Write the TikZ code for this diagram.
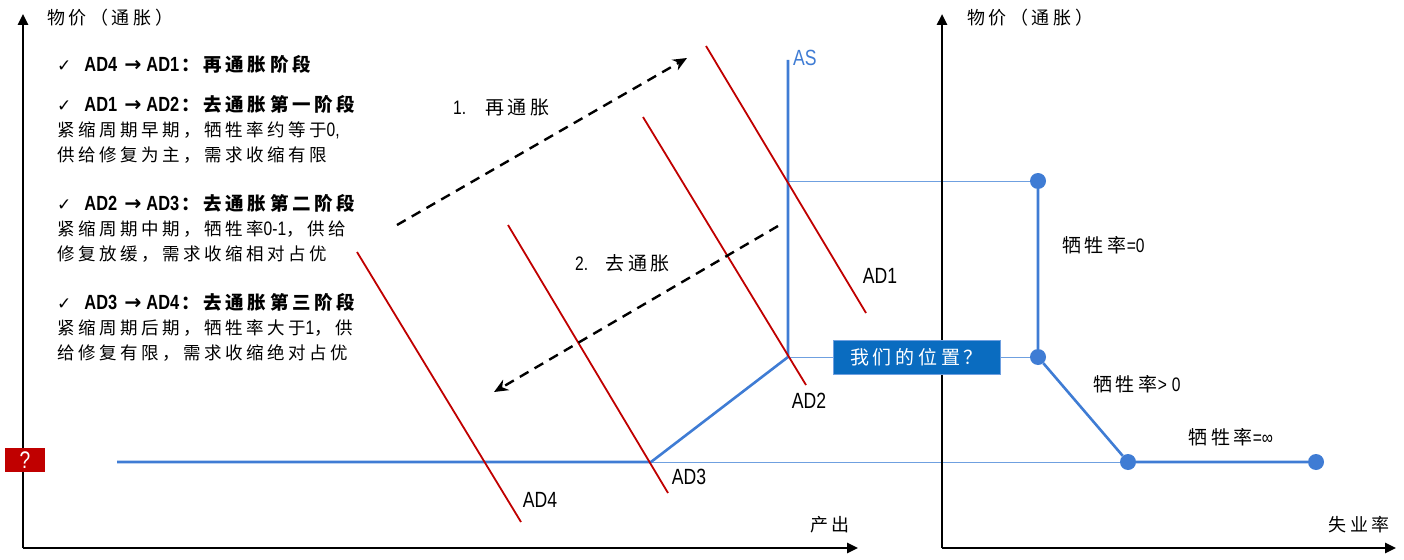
\documentclass[tikz,border=0pt]{standalone}
\usepackage{fontspec}
\setmainfont{Noto Sans CJK SC}[LetterSpace=20]
\newfontfamily\latfont[FakeStretch=0.8]{Liberation Sans}
\newfontfamily\symfont{DejaVu Sans}
\usetikzlibrary{arrows.meta, positioning}
\definecolor{lineblue}{HTML}{3F7CD4}
\definecolor{thinblue}{HTML}{6FA0E0}
\definecolor{boxblue}{HTML}{0A6CC0}
\definecolor{adred}{HTML}{C00000}
\newcommand{\num}[1]{{\latfont\fontsize{19.5}{20}\selectfont #1}}
\newcommand{\tick}{{\symfont\mdseries\fontsize{17}{20}\selectfont ✓}\hspace{13pt}}
\newcommand{\shiftto}[2]{{\latfont\fontsize{20.5}{21}\selectfont #1\hspace{7pt}{\symfont\bfseries →}\hspace{5pt}#2}\hspace{2pt}}

\begin{document}
\begin{tikzpicture}[
    x=1pt, y=-1pt,
    every node/.style={font=\fontsize{17.5}{20}\selectfont, inner sep=0pt},
    axis/.style={line width=2.5pt, -{Triangle[length=11pt,width=10pt]}},
    asline/.style={line width=2.6pt, lineblue},
    guide/.style={line width=1pt, thinblue},
    adline/.style={line width=1.8pt, adred},
    shift arrow/.style={line width=2.4pt, dash pattern=on 10pt off 7pt, -{Stealth[length=14pt,width=12pt]}},
    dot/.style={circle, fill=lineblue, minimum size=16pt},
    adlabel/.style={font=\latfont\fontsize{22}{22}\selectfont},
    axislabel/.style={font=\fontsize{18}{20}\selectfont},
    curvelabel/.style={anchor=west, font=\fontsize{19}{20}\selectfont},
    stepline/.style={anchor=west},
    headline/.style={anchor=west, font=\fontsize{18.5}{20}\selectfont\bfseries}
]
\useasboundingbox (0,0) rectangle (1404,559);

% axes
\coordinate (o1) at (23,548);
\coordinate (y1) at (23,14);
\coordinate (x1) at (858,548);
\coordinate (o2) at (942,548);
\coordinate (y2) at (942,14);
\coordinate (x2) at (1396,548);

% AS curve
\coordinate (asTop) at (788,60);
\coordinate (asA) at (788,181);
\coordinate (asB) at (788,357);
\coordinate (asC) at (651,462);
\coordinate (asEnd) at (117,462);

% dots of the right curve
\node (p0) [dot] at (1038,181) {};
\node (p1) [dot] at (1038,357) {};
\node (p2) [dot] at (1128,462) {};
\node (p3) [dot] at (1316,462) {};

\draw [guide] (asA) -- (p0);
\draw [guide] (asB) -- (p1);
\draw [guide] (asC) -- (p2);

\draw [asline] (asTop) -- (asB) -- (asC) -- (asEnd);
\draw [asline] (p0) -- (p1) -- (p2) -- (p3);

% AD lines
\coordinate (ad1a) at (706,46);  \coordinate (ad1b) at (866,313);
\coordinate (ad2a) at (643,117); \coordinate (ad2b) at (806,385);
\coordinate (ad3a) at (508,225); \coordinate (ad3b) at (668,493);
\coordinate (ad4a) at (357,252); \coordinate (ad4b) at (521,522);
\draw [adline] (ad1a) -- (ad1b);
\draw [adline] (ad2a) -- (ad2b);
\draw [adline] (ad3a) -- (ad3b);
\draw [adline] (ad4a) -- (ad4b);

\draw [axis] (o1) -- (y1);
\draw [axis] (o1) -- (x1);
\draw [axis] (o2) -- (y2);
\draw [axis] (o2) -- (x2);

% shifts of demand
\coordinate (up1) at (397,225);  \coordinate (up2) at (687,58);
\coordinate (dn1) at (778,226);  \coordinate (dn2) at (494,392);
\draw [shift arrow] (up1) -- (up2);
\draw [shift arrow] (dn1) -- (dn2);

\node (pos) [draw=thinblue, line width=0.8pt, fill=boxblue, text=white, minimum width=167pt, minimum height=34pt, font=\fontsize{19}{20}\selectfont] at (916.5,357) {我们的位置？};
\node (q) [fill=adred, text=white, minimum width=40pt, minimum height=24pt, font=\latfont\fontsize{24}{24}\selectfont] at (25,460) {?};

% labels
\node (ylab1) [axislabel, anchor=west] at (47,18) {物价（通胀）};
\node (ylab2) [axislabel, anchor=west] at (967,18) {物价（通胀）};
\node (xlab1) [axislabel] at (830,525) {产出};
\node (xlab2) [axislabel] at (1359,525) {失业率};
\node (as) [anchor=west, text=lineblue, font=\latfont\fontsize{22}{22}\selectfont] at (793,58) {AS};
\node (l1) [adlabel] at (880,276) {AD1};
\node (l2) [adlabel] at (809,401) {AD2};
\node (l3) [adlabel] at (689,477) {AD3};
\node (l4) [adlabel] at (540,500) {AD4};
\node (s1) [curvelabel] at (453,108) {\num{1.}\hspace{19pt}再通胀};
\node (s2) [curvelabel] at (575,263) {\num{2.}\hspace{17pt}去通胀};
\node (r0) [curvelabel] at (1062,245) {牺牲率\num{=0}};
\node (r1) [curvelabel] at (1093,384) {牺牲率\num{>\hspace{5pt}0}};
\node (r2) [curvelabel] at (1188,437) {牺牲率\num{=∞}};

% stages
\node (h1) [headline] at (57,64) {\tick\shiftto{AD4}{AD1}：再通胀阶段};
\node (h2) [headline] at (57,104) {\tick\shiftto{AD1}{AD2}：去通胀第一阶段};
\node (t2a) [stepline] at (57,130) {紧缩周期早期，牺牲率约等于\num{0,}};
\node (t2b) [stepline] at (57,155) {供给修复为主，需求收缩有限};
\node (h3) [headline] at (57,203) {\tick\shiftto{AD2}{AD3}：去通胀第二阶段};
\node (t3a) [stepline] at (57,229) {紧缩周期中期，牺牲率\num{0-1}，供给};
\node (t3b) [stepline] at (57,254) {修复放缓，需求收缩相对占优};
\node (h4) [headline] at (57,302) {\tick\shiftto{AD3}{AD4}：去通胀第三阶段};
\node (t4a) [stepline] at (57,328) {紧缩周期后期，牺牲率大于\num{1}，供};
\node (t4b) [stepline] at (57,353) {给修复有限，需求收缩绝对占优};

\end{tikzpicture}
\end{document}
